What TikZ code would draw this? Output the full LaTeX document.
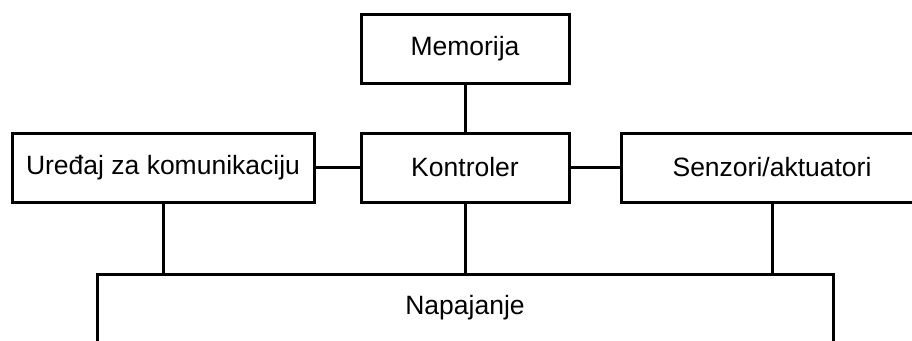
\documentclass[tikz,border=0pt]{standalone}
\usepackage{fontspec}
\setmainfont{Liberation Sans}
\begin{document}
\begin{tikzpicture}[x=1pt,y=-1pt,
  blk/.style={draw, line width=3pt, rectangle, inner sep=0pt, font=\fontsize{26.5}{31}\selectfont},
  wire/.style={line width=3pt}]
\useasboundingbox (0,0) rectangle (912,340);
\clip (0,0) rectangle (912,340);
\node[blk, minimum width=208pt, minimum height=68.5pt] (mem) at (465,48.75) {Memorija};
\node[blk, minimum width=208pt, minimum height=69pt] (kon) at (465,167.5) {Kontroler};
\node[blk, minimum width=302pt, minimum height=69pt] (ure) at (163,167.5) {Uređaj za komunikaciju};
\node[blk, minimum width=302pt, minimum height=69pt] (sen) at (772,167.5) {Senzori/aktuatori};
\node[blk, minimum width=736pt, minimum height=68pt] (nap) at (465,308) {Napajanje};
\draw[wire] (mem.south) -- (kon.north);
\draw[wire] (ure.east) -- (kon.west);
\draw[wire] (kon.east) -- (sen.west);
\draw[wire] (ure.south) -- (ure.south |- nap.north);
\draw[wire] (kon.south) -- (nap.north);
\draw[wire] (sen.south) -- (sen.south |- nap.north);
\end{tikzpicture}
\end{document}
